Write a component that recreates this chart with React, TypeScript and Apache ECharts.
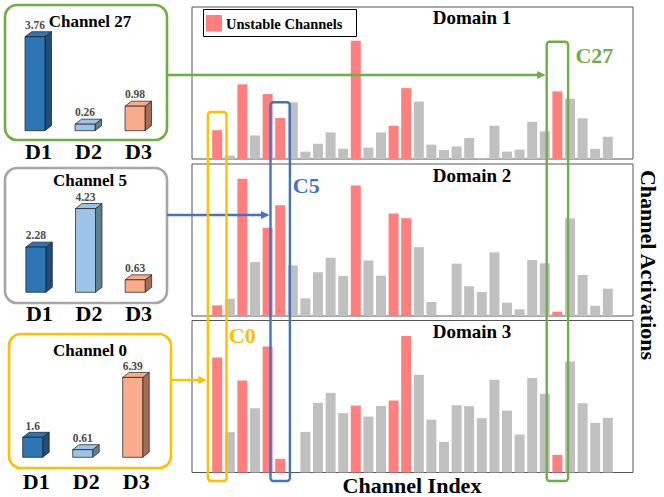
import React, { useEffect, useRef } from 'react';
import * as echarts from 'echarts';

// ---------------- data ----------------
const channels = [0, 1, 2, 3, 4, 5, 6, 7, 8, 9, 10, 11, 12, 13, 14, 15, 16, 17, 18, 19, 20, 21, 22, 23, 24, 25, 26, 27, 28, 29, 30, 31];
const unstableChannels = [0, 2, 4, 5, 11, 14, 15, 27];
const domainTitles = ['Domain 1', 'Domain 2', 'Domain 3'];
const domain1 = [1.6, 0.19, 4.15, 1.31, 3.61, 2.28, 3.15, 0.41, 0.85, 1.48, 0.57, 6.57, 0.63, 1.48, 1.85, 3.94, 3.19, 0.8, 0.5, 0.7, 1.17, 0.06, 1.85, 0.41, 0.52, 2.07, 1.54, 3.76, 3.35, 2.26, 0.56, 1.24];
const domain2 = [0.59, 0.96, 7.63, 3.0, 4.91, 6.15, 2.81, 0.98, 2.43, 3.24, 2.22, 7.26, 3.09, 2.24, 5.7, 5.44, 3.83, 0.78, 0.06, 2.91, 1.65, 1.33, 3.54, 0.74, 0.37, 3.11, 2.93, 0.24, 5.43, 2.28, 0.57, 1.52];
const domain3 = [6.39, 2.24, 5.11, 3.57, 7.0, 0.76, 0, 2.26, 3.87, 4.43, 3.3, 3.72, 3.11, 3.7, 4.0, 7.59, 5.44, 2.94, 1.7, 3.74, 3.69, 3.02, 5.15, 3.44, 2.11, 5.26, 4.37, 0.98, 6.17, 3.85, 2.76, 3.04];

const insetCategories = ['D1', 'D2', 'D3'];
const insetChannels = [27, 5, 0];
const insetTitles = ['Channel 27', 'Channel 5', 'Channel 0'];
const channel27 = [3.76, 0.26, 0.98];
const channel5 = [2.28, 4.23, 0.63];
const channel0 = [1.6, 0.61, 6.39];
const highlightLabels = ['C27', 'C5', 'C0'];

// ---------------- styles / layout ----------------
const FONT = '"Liberation Serif", "Times New Roman", "DejaVu Serif", serif';
const RED = '#FF7F7F';
const GRAYBAR = '#C0C0C0';
const GREEN = '#70AD47';
const BLUE = '#4472C4';
const GOLD = '#FFC000';
const GRAYBOX = '#A6A6A6';
const FRONT = ['#2E75B6', '#9DC3E6', '#F9AC8C'];
const SIDE = ['#1F4E79', '#5E8190', '#A76C56'];

const panelLeft = 192;
const panelWidth = 441;
const panelHeight = 152;
const panelTops = [7, 164, 320.5];
const titleYs = [17, 175, 331];

const insetGrids = [
  { left: 13.5, top: 30.7, width: 150, height: 100, max: 4, margin: 10 },
  { left: 14.5, top: 193.3, width: 149, height: 99, max: 5, margin: 10 },
  { left: 11.2, top: 369.8, width: 150, height: 87.5, max: 7, margin: 13 },
];
const insetBoxes = [
  { x: 5, y: 5, w: 162, h: 135, color: GREEN, titleY: 21 },
  { x: 5, y: 168, w: 162, h: 135, color: GRAYBOX, titleY: 180 },
  { x: 9, y: 334, w: 162, h: 134, color: GOLD, titleY: 350 },
];
const highlightBoxes = [
  { top: 41.7, half: 10.7, color: GREEN, arrowY: 75, labelDx: 37, labelY: 55 },
  { top: 102.3, half: 9.7, color: BLUE, arrowY: 215, labelDx: 26, labelY: 185 },
  { top: 112, half: 9.3, color: GOLD, arrowY: 380, labelDx: 25, labelY: 335 },
];
const highlightBottom = 481;

function bar3D(params: any, api: any) {
  const idx = api.value(0);
  const val = api.value(1);
  const top = api.coord([idx, val]);
  const base = api.coord([idx, 0]);
  const c = top[0];
  const fw = 20;
  const dx = 6.5;
  const dy = 5;
  const fl = c - 13.5;
  const fr = fl + fw;
  const t = top[1];
  const b = base[1];
  const stroke = '#1a1a1a';
  return {
    type: 'group',
    children: [
      {
        type: 'polygon',
        shape: { points: [[fr, t], [fr + dx, t - dy], [fr + dx, b - dy], [fr, b]] },
        style: { fill: SIDE[idx], stroke, lineWidth: 0.7 },
      },
      {
        type: 'polygon',
        shape: { points: [[fl, t], [fl + dx, t - dy], [fr + dx, t - dy], [fr, t]] },
        style: { fill: FRONT[idx], stroke, lineWidth: 0.7 },
      },
      {
        type: 'rect',
        shape: { x: fl, y: t, width: fw, height: b - t },
        style: { fill: FRONT[idx], stroke, lineWidth: 0.7 },
      },
      {
        type: 'text',
        style: {
          text: String(val),
          x: fl + fw / 2,
          y: t - dy - 1,
          align: 'center',
          verticalAlign: 'bottom',
          fontFamily: FONT,
          fontWeight: 'bold',
          fontSize: 11.5,
          lineHeight: 11.5,
          fill: '#4a4a4a',
        },
      },
    ],
  };
}

export default function App() {
  const ref = useRef<HTMLDivElement>(null);

  useEffect(() => {
    const chart = echarts.init(ref.current as HTMLDivElement, null, { renderer: 'svg' });
    const domains = [domain1, domain2, domain3];
    const insets = [channel27, channel5, channel0];

    const grid: any[] = [];
    const xAxis: any[] = [];
    const yAxis: any[] = [];
    const series: any[] = [];

    domains.forEach((vals, k) => {
      grid.push({
        left: panelLeft,
        top: panelTops[k],
        width: panelWidth,
        height: panelHeight,
        show: true,
        borderColor: '#555',
        borderWidth: 1,
        backgroundColor: 'transparent',
      });
      xAxis.push({ type: 'value', gridIndex: k, min: -2, max: 33, show: false });
      yAxis.push({ type: 'value', gridIndex: k, min: 0, max: 8.45, show: false });
      series.push({
        type: 'bar',
        xAxisIndex: k,
        yAxisIndex: k,
        barWidth: 10,
        silent: true,
        data: channels.map((ch, i) => ({
          value: [ch, vals[i]],
          itemStyle: { color: unstableChannels.includes(ch) ? RED : GRAYBAR },
        })),
      });
    });

    insets.forEach((vals, j) => {
      const g = insetGrids[j];
      const k = 3 + j;
      grid.push({ left: g.left, top: g.top, width: g.width, height: g.height });
      xAxis.push({
        type: 'category',
        gridIndex: k,
        data: insetCategories,
        axisLine: { show: false },
        axisTick: { show: false },
        axisLabel: {
          margin: g.margin,
          fontFamily: FONT,
          fontWeight: 'bold',
          fontSize: 22,
          color: '#000',
        },
      });
      yAxis.push({ type: 'value', gridIndex: k, min: 0, max: g.max, show: false });
      series.push({
        type: 'custom',
        xAxisIndex: k,
        yAxisIndex: k,
        silent: true,
        renderItem: bar3D,
        data: vals.map((v, i) => [i, v]),
      });
    });

    const textStyle = (text: string, size: number, color = '#000') => ({
      text,
      fontFamily: FONT,
      fontWeight: 'bold',
      fontSize: size,
      lineHeight: size,
      fill: color,
      align: 'center',
      verticalAlign: 'middle',
    });

    const baseGraphics: any[] = [];
    insetBoxes.forEach((b, j) => {
      baseGraphics.push({
        type: 'rect',
        z: 50,
        shape: { x: b.x, y: b.y, width: b.w, height: b.h, r: 12 },
        style: { fill: 'none', stroke: b.color, lineWidth: 2.6 },
      });
      baseGraphics.push({
        type: 'text',
        z: 50,
        x: 90,
        y: b.titleY,
        style: textStyle(insetTitles[j], 17),
      });
    });
    domainTitles.forEach((t, k) => {
      baseGraphics.push({ type: 'text', z: 50, x: 472, y: titleYs[k], style: textStyle(t, 19) });
    });
    // legend
    baseGraphics.push({
      type: 'rect',
      z: 50,
      shape: { x: 203.5, y: 9.5, width: 153, height: 27 },
      style: { fill: '#fff', stroke: '#000', lineWidth: 1 },
    });
    baseGraphics.push({
      type: 'rect',
      z: 51,
      shape: { x: 206, y: 15, width: 16, height: 16.5 },
      style: { fill: RED },
    });
    baseGraphics.push({
      type: 'text',
      z: 51,
      x: 226,
      y: 24,
      style: { ...textStyle('Unstable Channels', 14.5), align: 'left' },
    });
    baseGraphics.push({ type: 'text', z: 50, x: 412, y: 485, style: textStyle('Channel Index', 22) });
    baseGraphics.push({
      type: 'text',
      z: 50,
      x: 648,
      y: 265,
      rotation: -Math.PI / 2,
      style: textStyle('Channel Activations', 22),
    });

    chart.setOption({
      animation: false,
      backgroundColor: '#fff',
      grid,
      xAxis,
      yAxis,
      series,
      graphic: baseGraphics,
    });

    // highlight boxes, labels and arrows placed through the chart's own scale
    const overlay: any[] = [];
    insetChannels.forEach((ch, j) => {
      const h = highlightBoxes[j];
      const px = chart.convertToPixel({ gridIndex: 0 }, [ch, 0]) as number[];
      const cx = px[0];
      const left = cx - h.half;
      overlay.push({
        type: 'rect',
        z: 60,
        shape: { x: left, y: h.top, width: h.half * 2, height: highlightBottom - h.top, r: 3 },
        style: { fill: 'none', stroke: h.color, lineWidth: 2.4 },
      });
      overlay.push({
        type: 'text',
        z: 60,
        x: cx + h.labelDx,
        y: h.labelY,
        style: textStyle(highlightLabels[j], 22, h.color),
      });
      const b = insetBoxes[j];
      const tip = left - 1;
      overlay.push({
        type: 'line',
        z: 60,
        shape: { x1: b.x + b.w, y1: h.arrowY, x2: tip - 6, y2: h.arrowY },
        style: { stroke: h.color, lineWidth: 2.4 },
      });
      overlay.push({
        type: 'polygon',
        z: 60,
        shape: { points: [[tip, h.arrowY], [tip - 8.5, h.arrowY - 4], [tip - 8.5, h.arrowY + 4]] },
        style: { fill: h.color },
      });
    });

    chart.setOption({ graphic: [...baseGraphics, ...overlay] });

    return () => chart.dispose();
  }, []);

  return (
    <div
      ref={ref}
      style={{ position: 'fixed', left: 0, top: 0, width: 664, height: 497, background: '#fff' }}
    />
  );
}
